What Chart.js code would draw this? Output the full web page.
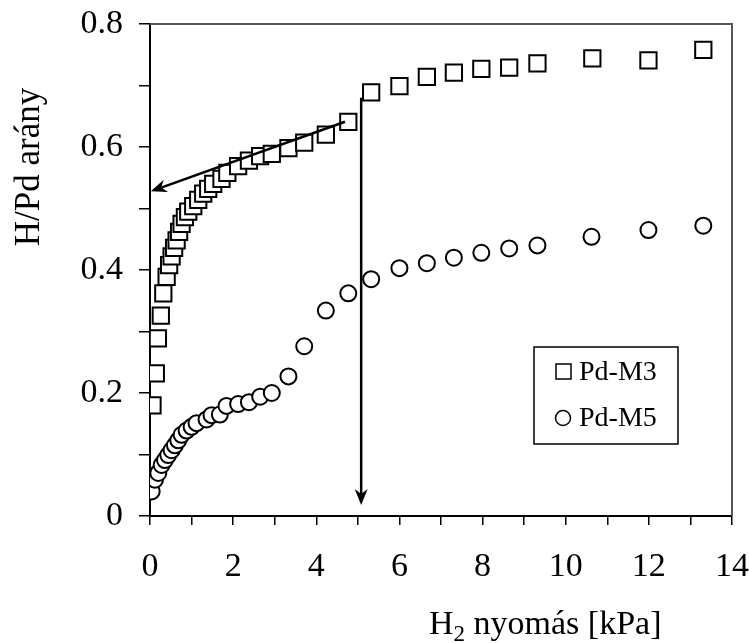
<!DOCTYPE html>
<html lang="hu">
<head>
  <meta charset="UTF-8" />
  <title>H/Pd arány – H2 nyomás</title>
  <script src="https://cdn.jsdelivr.net/npm/chart.js"></script>
  <style>
    body {
      margin: 0;
      background: #fff;
    }
    .wrap {
      width: 749px;
      height: 643px;
      position: relative;
    }
  </style>
</head>
<body>
<div class="wrap"><canvas id="chart"></canvas></div>

<script>
// values
const m3Press = [0.06, 0.14, 0.19, 0.26, 0.32, 0.40, 0.46, 0.52, 0.58, 0.64, 0.70, 0.76, 0.84, 0.92,
  1.04, 1.16, 1.28, 1.40, 1.52, 1.72, 1.86, 2.12, 2.38, 2.65, 2.93, 3.33, 3.71, 4.23, 4.77,
  5.32, 6.00, 6.66, 7.31, 7.97, 8.64, 9.32, 10.64, 11.99, 13.31];
const m3Ratio = [0.180, 0.232, 0.289, 0.326, 0.362, 0.389, 0.408, 0.422, 0.436, 0.448, 0.462, 0.475, 0.486, 0.495,
  0.504, 0.514, 0.524, 0.532, 0.540, 0.548, 0.558, 0.569, 0.578, 0.585, 0.589, 0.598, 0.607, 0.620, 0.641,
  0.689, 0.699, 0.714, 0.721, 0.727, 0.729, 0.736, 0.744, 0.741, 0.758];

const m5Press = [0.04, 0.12, 0.20, 0.28, 0.36, 0.44, 0.52, 0.60, 0.68, 0.76, 0.88, 1.00, 1.12, 1.36,
  1.48, 1.68, 1.84, 2.12, 2.38, 2.65, 2.93, 3.33, 3.71, 4.23, 4.77, 5.32, 6.00, 6.66, 7.31,
  7.97, 8.64, 9.32, 10.62, 11.99, 13.31];
const m5Ratio = [0.040, 0.059, 0.070, 0.083, 0.091, 0.099, 0.107, 0.115, 0.123, 0.132, 0.139, 0.145, 0.151, 0.157,
  0.164, 0.165, 0.179, 0.182, 0.185, 0.194, 0.200, 0.227, 0.276, 0.334, 0.362, 0.385, 0.403, 0.411, 0.420,
  0.428, 0.435, 0.440, 0.454, 0.465, 0.472];

const seriesNames = ["Pd-M3", "Pd-M5"];
const xTickLabels = [0, 2, 4, 6, 8, 10, 12, 14];
const yTickLabels = [0, 0.2, 0.4, 0.6, 0.8];

// arrows drawn on the plot, in data units
const arrowFrom = [[4.69, 0.641], [5.08, 0.680]];
const arrowTo = [[0.02, 0.528], [5.08, 0.018]];

const FONT = "'Liberation Serif', 'Times New Roman', serif";

function pts(xs, ys) {
  return xs.map((x, i) => ({ x: x, y: ys[i] }));
}

// top + right frame, arrows, legend, axis titles
const extras = {
  id: "extras",
  beforeDatasetsDraw(chart) {
    const a = chart.chartArea, c = chart.ctx;
    c.save();
    c.strokeStyle = "#555";
    c.lineWidth = 2;
    c.beginPath();
    c.moveTo(a.left, a.top);
    c.lineTo(a.right, a.top);
    c.lineTo(a.right, a.bottom);
    c.stroke();
    c.restore();
  },
  afterDatasetsDraw(chart) {
    const c = chart.ctx, xs = chart.scales.x, ys = chart.scales.y;
    c.save();
    c.strokeStyle = "#000";
    c.fillStyle = "#000";
    c.lineWidth = 2.5;
    for (let i = 0; i < arrowFrom.length; i++) {
      const x1 = xs.getPixelForValue(arrowFrom[i][0]), y1 = ys.getPixelForValue(arrowFrom[i][1]);
      const x2 = xs.getPixelForValue(arrowTo[i][0]), y2 = ys.getPixelForValue(arrowTo[i][1]);
      const ang = Math.atan2(y2 - y1, x2 - x1);
      const len = 16, half = 6.5, back = 11;
      c.beginPath();
      c.moveTo(x1, y1);
      c.lineTo(x2 - Math.cos(ang) * back, y2 - Math.sin(ang) * back);
      c.stroke();
      c.beginPath();
      c.moveTo(x2, y2);
      c.lineTo(x2 - Math.cos(ang) * len - Math.sin(ang) * half, y2 - Math.sin(ang) * len + Math.cos(ang) * half);
      c.lineTo(x2 - Math.cos(ang) * back, y2 - Math.sin(ang) * back);
      c.lineTo(x2 - Math.cos(ang) * len + Math.sin(ang) * half, y2 - Math.sin(ang) * len - Math.cos(ang) * half);
      c.closePath();
      c.fill();
    }

    // legend
    c.lineWidth = 1.5;
    c.strokeStyle = "#000";
    c.strokeRect(534, 347, 144, 97);
    c.font = "28px " + FONT;
    c.textBaseline = "middle";
    c.textAlign = "left";
    const rows = [372, 418];
    // square marker
    c.fillStyle = "#fff";
    c.fillRect(556, rows[0] - 8, 15, 15);
    c.strokeRect(556, rows[0] - 8, 15, 15);
    // circle marker
    c.beginPath();
    c.arc(563, rows[1], 7.5, 0, Math.PI * 2);
    c.fill();
    c.stroke();
    c.fillStyle = "#000";
    c.fillText(seriesNames[0], 579, rows[0] + 1);
    c.fillText(seriesNames[1], 579, rows[1] + 1);

    // axis titles
    c.font = "35px " + FONT;
    c.textBaseline = "alphabetic";
    c.save();
    c.translate(39, 167);
    c.rotate(-Math.PI / 2);
    c.textAlign = "center";
    c.fillText("H/Pd arány", 0, 0);
    c.restore();

    let x = 429;
    const base = 634;
    c.font = "34px " + FONT;
    c.textAlign = "left";
    c.fillText("H", x, base);
    x += c.measureText("H").width;
    c.font = "23px " + FONT;
    c.fillText("2", x, base + 7);
    x += c.measureText("2").width;
    c.font = "34px " + FONT;
    c.fillText(" nyomás [kPa]", x, base);
    c.restore();
  }
};

const ctx = document.getElementById("chart").getContext("2d");
new Chart(ctx, {
  type: "scatter",
  data: {
    datasets: [
      {
        label: seriesNames[0],
        data: pts(m3Press, m3Ratio),
        pointStyle: "rect",
        pointRadius: 11.5,
        borderColor: "#000",
        backgroundColor: "#fff",
        borderWidth: 2
      },
      {
        label: seriesNames[1],
        data: pts(m5Press, m5Ratio),
        pointStyle: "circle",
        pointRadius: 8,
        borderColor: "#000",
        backgroundColor: "#fff",
        borderWidth: 2
      }
    ]
  },
  options: {
    responsive: true,
    maintainAspectRatio: false,
    animation: false,
    layout: { padding: { left: 0, right: 17, top: 24, bottom: 0 } },
    plugins: {
      legend: { display: false },
      tooltip: { enabled: false }
    },
    scales: {
      x: {
        type: "linear",
        min: 0,
        max: 14,
        afterFit(s) {
          s.height = 127;
          s.paddingLeft = 0;
          s.paddingRight = 0;
        },
        ticks: {
          stepSize: 1,
          color: "#000",
          padding: 22,
          maxRotation: 0,
          autoSkip: false,
          font: { family: FONT, size: 34 },
          callback: v => xTickLabels.includes(v) ? String(v) : ""
        },
        grid: { drawOnChartArea: false, tickLength: 9, color: "#000", lineWidth: 1.5 },
        border: { color: "#000", width: 2 }
      },
      y: {
        min: 0,
        max: 0.8,
        afterFit(s) {
          s.width = 150;
          s.paddingTop = 0;
          s.paddingBottom = 0;
        },
        ticks: {
          stepSize: 0.1,
          color: "#000",
          padding: 16,
          autoSkip: false,
          font: { family: FONT, size: 34 },
          callback: v => {
            const r = Math.round(v * 10) / 10;
            return yTickLabels.includes(r) ? (r === 0 ? "0" : r.toFixed(1)) : "";
          }
        },
        grid: { drawOnChartArea: false, tickLength: 11, color: "#000", lineWidth: 1.5 },
        border: { color: "#000", width: 2 }
      }
    }
  },
  plugins: [extras]
});
</script>
</body>
</html>
